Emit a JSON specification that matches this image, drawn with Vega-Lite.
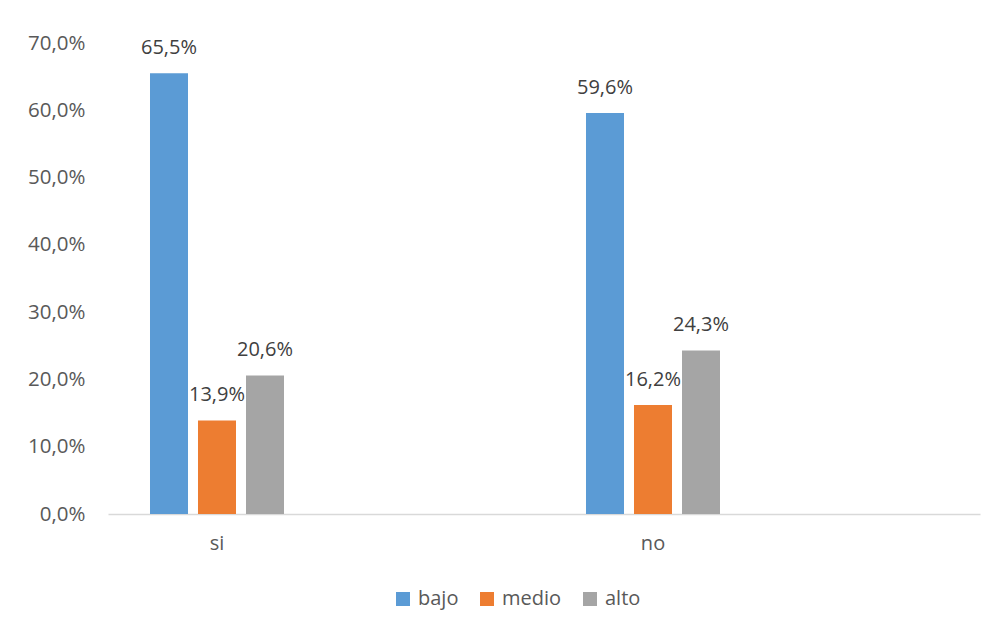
{
  "$schema": "https://vega.github.io/schema/vega-lite/v6.json",
  "width": 872,
  "height": 471,
  "autosize": {"type": "none"},
  "padding": {"left": 108, "top": 43, "right": 15, "bottom": 115},
  "background": "white",
  "config": {
    "locale": {"number": {"decimal": ",", "thousands": ".", "grouping": [3], "currency": ["", " €"]}},
    "view": {"stroke": null},
    "font": "Open Sans"
  },
  "data": {
    "values": [
      {"grupo": "si", "nivel": "bajo", "valor": 0.655},
      {"grupo": "si", "nivel": "medio", "valor": 0.139},
      {"grupo": "si", "nivel": "alto", "valor": 0.206},
      {"grupo": "no", "nivel": "bajo", "valor": 0.596},
      {"grupo": "no", "nivel": "medio", "valor": 0.162},
      {"grupo": "no", "nivel": "alto", "valor": 0.243}
    ]
  },
  "encoding": {
    "x": {
      "field": "grupo",
      "type": "nominal",
      "scale": {"domain": ["si", "_a", "no", "_b"], "paddingInner": 0, "paddingOuter": 0},
      "axis": {
        "title": null,
        "labelAngle": 0,
        "labelExpr": "indexof(datum.value, '_') == 0 ? '' : datum.value",
        "labelFontSize": 20,
        "labelColor": "#595959",
        "labelPadding": 19,
        "ticks": false,
        "domainColor": "#d9d9d9",
        "domainWidth": 1.5,
        "grid": false
      }
    },
    "xOffset": {
      "field": "nivel",
      "type": "nominal",
      "sort": ["bajo", "medio", "alto"],
      "scale": {"paddingInner": 0.2083, "paddingOuter": 0.875}
    },
    "y": {
      "field": "valor",
      "type": "quantitative",
      "scale": {"domain": [0, 0.7], "nice": false},
      "axis": {
        "title": null,
        "format": ".1%",
        "values": [0, 0.1, 0.2, 0.3, 0.4, 0.5, 0.6, 0.7],
        "labelFontSize": 20.5,
        "labelColor": "#595959",
        "labelPadding": 23,
        "ticks": false,
        "domain": false,
        "grid": false
      }
    }
  },
  "layer": [
    {
      "mark": {"type": "bar"},
      "encoding": {
        "color": {
          "field": "nivel",
          "type": "nominal",
          "sort": ["bajo", "medio", "alto"],
          "scale": {"domain": ["bajo", "medio", "alto"], "range": ["#5b9bd5", "#ed7d31", "#a5a5a5"]},
          "legend": {
            "title": null,
            "orient": "none",
            "direction": "horizontal",
            "legendX": 285,
            "legendY": 546,
            "symbolType": "square",
            "symbolSize": 196,
            "symbolStrokeWidth": 0,
            "labelFontSize": 20,
            "labelColor": "#595959",
            "labelOffset": 5,
            "columnPadding": 18
          }
        }
      }
    },
    {
      "mark": {"type": "text", "baseline": "alphabetic", "dy": -19, "fontSize": 20, "color": "#404040"},
      "encoding": {
        "text": {"field": "valor", "type": "quantitative", "format": ".1%"}
      }
    }
  ]
}
